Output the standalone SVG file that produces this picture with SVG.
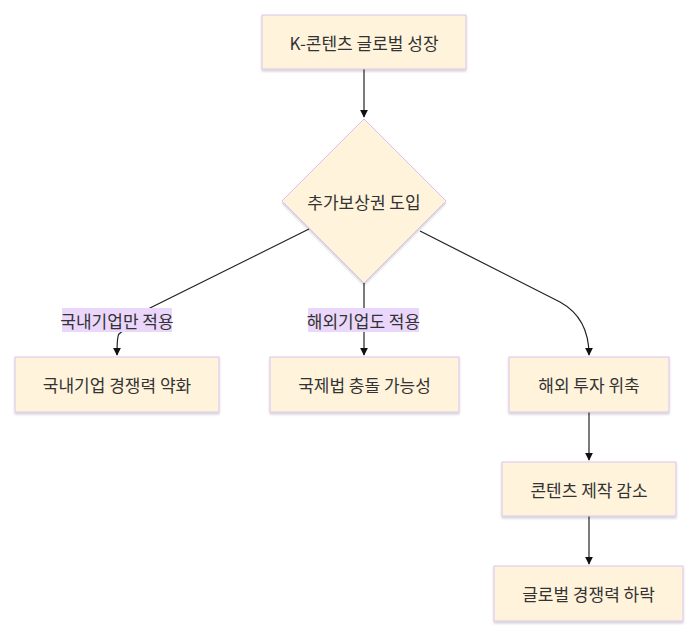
<svg xmlns="http://www.w3.org/2000/svg" width="700" height="637" viewBox="0 0 700 637">
<style>
.node{fill:#fff3dc;stroke:#dcc3ee;stroke-width:1;filter:url(#sh)}
.t{font-family:"Noto Sans CJK KR","Noto Sans",sans-serif;font-size:17px;fill:#333;text-anchor:middle;dominant-baseline:central}
.e{fill:none;stroke:#222;stroke-width:1.2}
.lb{fill:#ead7fb}
</style>
<defs>
<marker id="ar" viewBox="0 0 10 10" refX="9" refY="5" markerWidth="8" markerHeight="8" orient="auto" markerUnits="userSpaceOnUse"><path d="M0,0 L10,5 L0,10 z" fill="#111"/></marker>
<filter id="sh" x="-10%" y="-10%" width="120%" height="130%"><feDropShadow dx="0" dy="2" stdDeviation="1.2" flood-color="#000" flood-opacity="0.18"/></filter>
</defs>
<rect width="700" height="637" fill="#fff"/>
<g id="connectors">
<path class="e" d="M364,69 L364,117" marker-end="url(#ar)"/>
<path class="e" d="M309,229 L150,308 L119,334 Q117,336 117,355" marker-end="url(#ar)"/>
<path class="e" d="M364,283 L364,355" marker-end="url(#ar)"/>
<path class="e" d="M420,231 L560,302 Q589,318 589,355" marker-end="url(#ar)"/>
<path class="e" d="M589,412 L589,460" marker-end="url(#ar)"/>
<path class="e" d="M589,516 L589,564" marker-end="url(#ar)"/>
</g>
<g id="label1"><rect class="lb" x="62" y="308" width="110" height="24"/><text class="t" x="117" y="320">국내기업만 적용</text></g>
<g id="label2"><rect class="lb" x="308" y="308" width="111" height="24"/><text class="t" x="363.5" y="320">해외기업도 적용</text></g>
<g id="A"><rect class="node" x="262" y="15" width="204" height="54"/><text class="t" x="364" y="42">K-콘텐츠 글로벌 성장</text></g>
<g id="B"><path class="node" d="M364,119 L446,201 L364,283 L282,201 z"/><text class="t" x="364" y="201">추가보상권 도입</text></g>
<g id="C"><rect class="node" x="15" y="357" width="204" height="55"/><text class="t" x="117" y="384.5">국내기업 경쟁력 약화</text></g>
<g id="D"><rect class="node" x="270" y="357" width="189" height="55"/><text class="t" x="364.5" y="384.5">국제법 충돌 가능성</text></g>
<g id="E"><rect class="node" x="509" y="357" width="160" height="55"/><text class="t" x="589" y="384.5">해외 투자 위축</text></g>
<g id="F"><rect class="node" x="502" y="462" width="174" height="54"/><text class="t" x="589" y="489">콘텐츠 제작 감소</text></g>
<g id="G"><rect class="node" x="494" y="566" width="189" height="55"/><text class="t" x="588.5" y="593.5">글로벌 경쟁력 하락</text></g>
</svg>
